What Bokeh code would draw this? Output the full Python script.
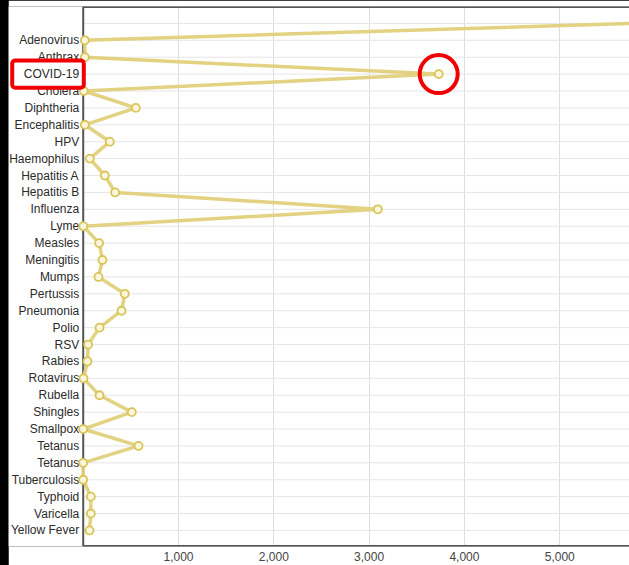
from bokeh.plotting import figure
from bokeh.models import (Range1d, FixedTicker, NumeralTickFormatter, ColumnDataSource,
                          BoxAnnotation)
from bokeh.core.properties import value
from bokeh.embed import file_html
from bokeh.resources import INLINE

labels = ["", "Adenovirus", "Anthrax", "COVID-19", "Cholera", "Diphtheria", "Encephalitis",
          "HPV", "Haemophilus", "Hepatitis A", "Hepatitis B", "Influenza", "Lyme", "Measles",
          "Meningitis", "Mumps", "Pertussis", "Pneumonia", "Polio", "RSV", "Rabies",
          "Rotavirus", "Rubella", "Shingles", "Smallpox", "Tetanus", "Tetanus",
          "Tuberculosis", "Typhoid", "Varicella", "Yellow Fever"]
values = [5800, 17, 17, 3730, 6, 552, 17, 279, 69, 227, 335, 3091, 1, 167, 202, 160,
          436, 402, 171, 51, 45, 3, 171, 510, 0, 580, 0, 0, 80, 80, 66]
x_ticks = [1000, 2000, 3000, 4000, 5000]
highlight = "COVID-19"

X_MIN, X_MAX = -784, 5732      # negative part of the range hosts the category labels
Y_BOTTOM, Y_TOP = 30.95, -1.0

rows = list(range(len(labels)))
ci = labels.index(highlight)
src = ColumnDataSource(dict(x=values, y=rows))
lab_src = ColumnDataSource(dict(x=[0] * len(labels), y=rows, text=labels))

p = figure(width=621, height=565, output_backend="svg", toolbar_location=None,
           x_range=Range1d(X_MIN, X_MAX), y_range=Range1d(Y_BOTTOM, Y_TOP),
           min_border_left=0, min_border_right=0, min_border_top=6, min_border_bottom=19)
p.background_fill_color = "white"
p.border_fill_color = "white"
p.outline_line_color = None
p.yaxis.visible = False
p.ygrid.visible = False

# x axis (labels only; the axis line is drawn from 0 rightwards below)
p.xaxis.ticker = FixedTicker(ticks=x_ticks)
p.xaxis.formatter = NumeralTickFormatter(format="0,0")
p.xaxis.major_label_text_font = "Liberation Sans"
p.xaxis.major_label_text_font_size = "12px"
p.xaxis.major_label_text_color = "#444444"
p.xaxis.major_tick_out = 0
p.xaxis.major_tick_in = 0
p.xaxis.minor_tick_out = 0
p.xaxis.minor_tick_in = 0
p.xaxis.major_label_standoff = 5
p.xaxis.axis_line_color = None

p.xgrid.ticker = FixedTicker(ticks=x_ticks)
p.xgrid.grid_line_color = "#dddddd"

# horizontal grid lines, one per category, starting at the value axis
p.segment(x0=[0] * len(rows), x1=[X_MAX] * len(rows), y0=rows, y1=rows,
          line_color="#e6e6e6", line_width=1)

# plot-area borders: top, left (value 0) and bottom
p.segment(x0=[0, 0, 0], x1=[X_MAX, 0, X_MAX], y0=[Y_TOP + 0.03, Y_TOP, Y_BOTTOM - 0.03],
          y1=[Y_TOP + 0.03, Y_BOTTOM, Y_BOTTOM - 0.03], line_color="#555555", line_width=2)

# category labels
p.text("x", "y", text="text", source=lab_src, x_offset=-4, text_align="right",
       text_baseline="middle", text_font=value("Liberation Sans"), text_font_size="12px",
       text_color="#2a2a2a")

# series line and markers
p.line("x", "y", source=src, line_color="#e0d07a", line_width=3.5, line_alpha=0.95)
p.scatter("x", "y", source=src, size=8, fill_color="#fcf7dc", line_color="#d8c457",
          line_width=1.8)

# red highlight: circle around the COVID-19 point, box around its label
p.scatter([values[ci]], [ci], size=38, fill_color=None, line_color="#f00000", line_width=4)
p.add_layout(BoxAnnotation(left=-745, right=6, top=ci - 0.8, bottom=ci + 0.8,
                           fill_color=None, fill_alpha=0, line_color="#f00000",
                           line_alpha=1.0, line_width=4, border_radius=3))

html = file_html(p, INLINE)
html = html.replace("</head>",
                    "<style>html,body{margin:0;padding:0;}body{padding-left:8px;background:#000;}</style></head>", 1)
open("out.html", "w").write(html)
